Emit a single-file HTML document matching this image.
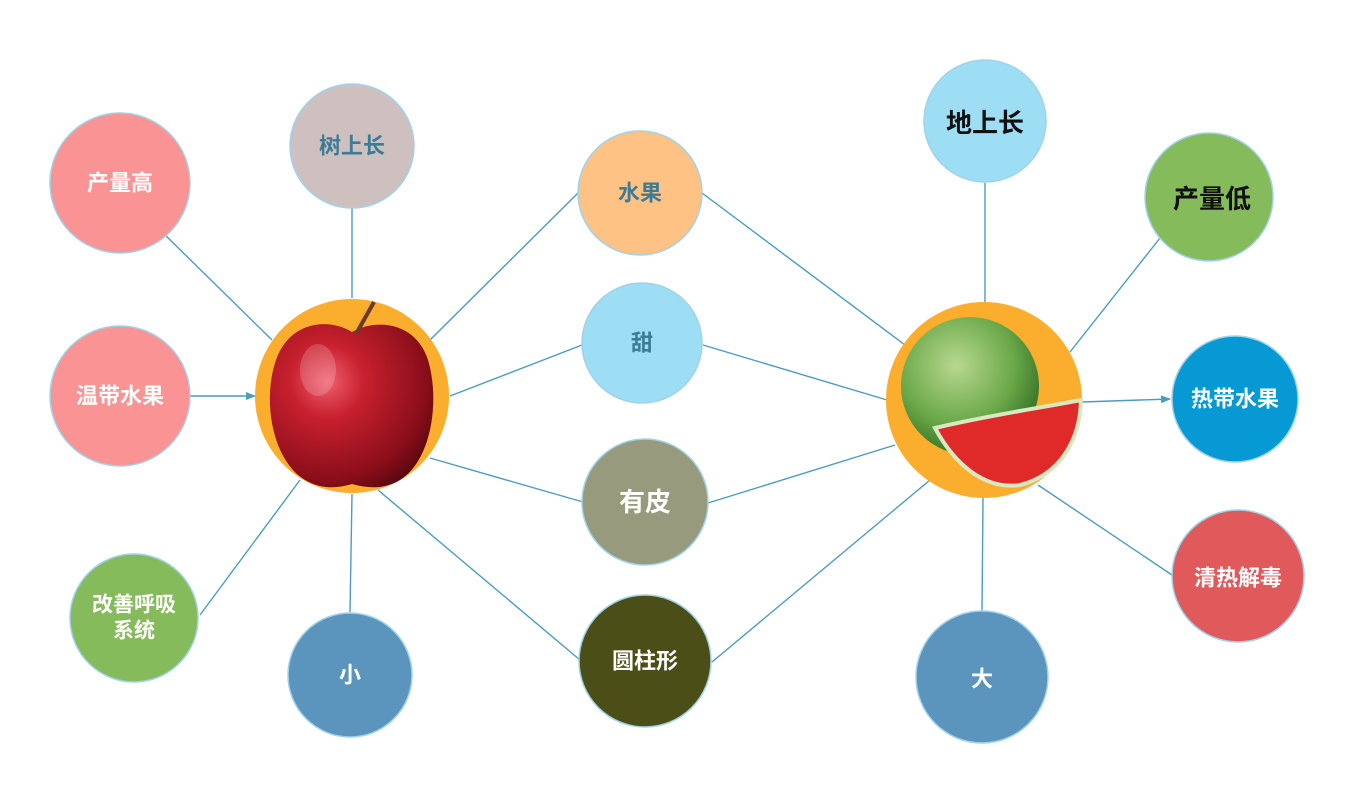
<!DOCTYPE html>
<html><head><meta charset="utf-8">
<style>
html,body{margin:0;padding:0;background:#fff;}
svg{display:block;}
text{font-family:"Liberation Sans","Noto Sans CJK SC",sans-serif;font-weight:bold;text-anchor:middle;dominant-baseline:central;}
</style></head><body>
<svg width="1367" height="789" viewBox="0 0 1367 789" xmlns="http://www.w3.org/2000/svg">
<defs>
<radialGradient id="ap" cx="0.35" cy="0.35" r="0.75">
<stop offset="0" stop-color="#f06070"/><stop offset="0.3" stop-color="#c8202e"/><stop offset="0.8" stop-color="#8a0e1a"/><stop offset="1" stop-color="#5a0810"/>
</radialGradient>
<radialGradient id="wm" cx="0.4" cy="0.35" r="0.7">
<stop offset="0" stop-color="#b8d890"/><stop offset="0.6" stop-color="#6aa848"/><stop offset="1" stop-color="#2e6a22"/>
</radialGradient>
<marker id="ar" markerWidth="10" markerHeight="10" refX="9" refY="5" orient="auto" markerUnits="userSpaceOnUse">
<path d="M0,1 L10,5 L0,9 z" fill="#4a9cc0"/>
</marker>
</defs>
<g stroke="#4a9cc0" stroke-width="1.4" fill="none">
<line x1="160" y1="230" x2="272" y2="340"/>
<line x1="352" y1="208" x2="352" y2="298"/>
<line x1="578" y1="193" x2="430" y2="340"/>
<line x1="582" y1="345" x2="450" y2="396"/>
<line x1="583" y1="502" x2="430" y2="458"/>
<line x1="580" y1="660" x2="378" y2="490"/>
<line x1="350" y1="612" x2="352" y2="494"/>
<line x1="200" y1="615" x2="300" y2="480"/>
<line x1="190" y1="396" x2="255" y2="396" marker-end="url(#ar)"/>
<line x1="702" y1="193" x2="905" y2="345"/>
<line x1="703" y1="345" x2="887" y2="400"/>
<line x1="708" y1="503" x2="895" y2="445"/>
<line x1="712" y1="662" x2="930" y2="480"/>
<line x1="985" y1="183" x2="985" y2="302"/>
<line x1="1160" y1="238" x2="1070" y2="352"/>
<line x1="1172" y1="575" x2="1038" y2="485"/>
<line x1="982" y1="612" x2="983" y2="498"/>
<line x1="1082" y1="402" x2="1170" y2="399" marker-end="url(#ar)"/>
</g>
<g stroke="#9fd3ea" stroke-width="1.5">
<circle cx="120" cy="183" r="70" fill="#f99394"/>
<circle cx="352" cy="146" r="62" fill="#cfc0c0"/>
<circle cx="120" cy="396" r="70" fill="#f99394"/>
<circle cx="134" cy="618" r="64" fill="#86bb5c"/>
<circle cx="350" cy="675" r="62" fill="#5b94bd"/>
<circle cx="640" cy="193" r="62" fill="#fec285"/>
<circle cx="642" cy="343" r="60" fill="#9edef4"/>
<circle cx="645" cy="502" r="63" fill="#979a7d"/>
<circle cx="645" cy="661" r="66" fill="#4b4e16"/>
<circle cx="985" cy="121" r="61" fill="#9edef4"/>
<circle cx="1209" cy="197" r="64" fill="#86bb5c"/>
<circle cx="1235" cy="399" r="63" fill="#0799d4"/>
<circle cx="1238" cy="576" r="66" fill="#e05a5c"/>
<circle cx="982" cy="677" r="66" fill="#5b94bd"/>
</g>
<!-- apple -->
<circle cx="352" cy="396" r="97" fill="#fbae2e"/>
<path d="M352,332 C330,318 290,320 276,360 C262,400 272,460 305,480 C325,492 345,486 352,484 C360,486 380,492 400,480 C432,460 440,400 428,360 C416,322 376,318 352,332 z" fill="url(#ap)"/>
<line x1="356" y1="334" x2="374" y2="302" stroke="#6b3a2a" stroke-width="4"/>
<ellipse cx="318" cy="370" rx="18" ry="26" fill="#fff" opacity="0.18"/>
<!-- watermelon -->
<circle cx="984" cy="400" r="98" fill="#fbae2e"/>
<circle cx="970" cy="386" r="69" fill="url(#wm)"/>
<path d="M935,428 C990,415 1040,408 1081,400 C1080,440 1060,475 1020,485 C985,490 955,465 935,428 z" fill="#e02a2a" stroke="#d8e8c0" stroke-width="4"/>
<g fill="#fff">
<text x="120" y="183" font-size="22">产量高</text>
<text x="352" y="146" font-size="22" fill="#3e7c96">树上长</text>
<text x="120" y="396" font-size="22">温带水果</text>
<text x="134" y="605" font-size="21">改善呼吸</text>
<text x="134" y="631" font-size="21">系统</text>
<text x="350" y="675" font-size="22">小</text>
<text x="640" y="193" font-size="22" fill="#3e7c96">水果</text>
<text x="642" y="343" font-size="22" fill="#3e7c96">甜</text>
<text x="645" y="502" font-size="26">有皮</text>
<text x="645" y="661" font-size="22">圆柱形</text>
<text x="985" y="123" font-size="26" fill="#111" font-weight="normal">地上长</text>
<text x="1212" y="199" font-size="26" fill="#111" font-weight="normal">产量低</text>
<text x="1235" y="399" font-size="22">热带水果</text>
<text x="1238" y="578" font-size="22">清热解毒</text>
<text x="982" y="679" font-size="22">大</text>
</g>
</svg>
</body></html>
